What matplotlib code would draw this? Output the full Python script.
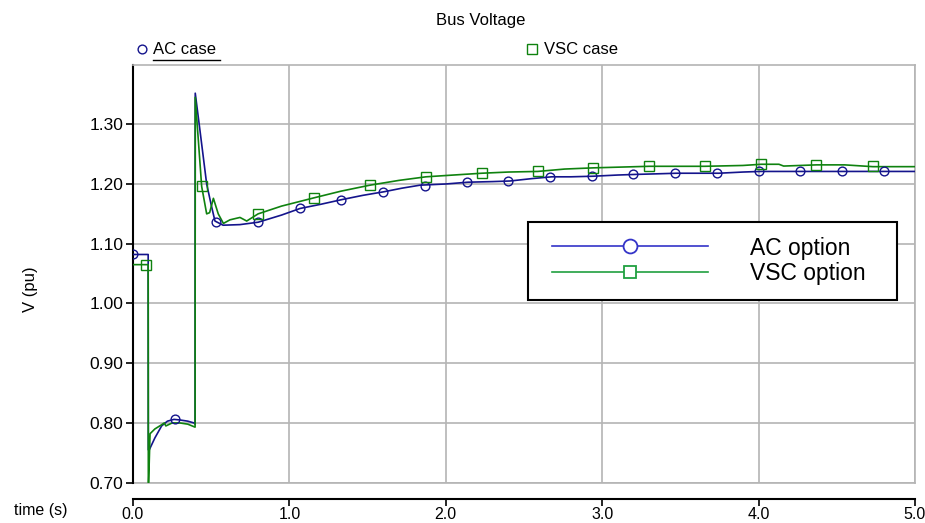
import matplotlib
matplotlib.use("Agg")
import matplotlib.pyplot as plt
from matplotlib.lines import Line2D
from matplotlib.patches import Rectangle

plt.rcParams['font.family'] = ['Liberation Sans', 'DejaVu Sans']

# ---------------- data ----------------
ac_t = [0.0, 0.097, 0.098, 0.104, 0.14, 0.183, 0.22, 0.262, 0.30, 0.35, 0.39, 0.397,
        0.398, 0.428, 0.471, 0.50, 0.524, 0.576, 0.684, 0.80, 0.95, 1.068, 1.20, 1.338,
        1.47, 1.605, 1.72, 1.835, 2.0, 2.142, 2.30, 2.41, 2.55, 2.677, 2.80, 2.943,
        3.10, 3.21, 3.35, 3.478, 3.60, 3.745, 3.90, 4.01, 4.30, 4.60, 5.0]
ac_v = [1.082, 1.082, 0.755, 0.755, 0.775, 0.795, 0.803, 0.806, 0.805, 0.803, 0.800, 0.798,
        1.352, 1.290, 1.200, 1.165, 1.138, 1.131, 1.132, 1.136, 1.148, 1.159, 1.166, 1.174,
        1.181, 1.187, 1.193, 1.198, 1.200, 1.203, 1.204, 1.205, 1.209, 1.212, 1.212, 1.213,
        1.215, 1.216, 1.217, 1.218, 1.218, 1.218, 1.220, 1.221, 1.221, 1.221, 1.221]

vsc_t = [0.0, 0.097, 0.098, 0.100, 0.109, 0.14, 0.183, 0.20, 0.21, 0.25, 0.30, 0.35, 0.397,
         0.398, 0.439, 0.471, 0.49, 0.514, 0.545, 0.578, 0.62, 0.684, 0.727, 0.80, 0.95,
         1.16, 1.33, 1.515, 1.70, 1.873, 2.05, 2.23, 2.40, 2.588, 2.76, 2.943, 3.30, 3.655,
         3.90, 4.017, 4.13, 4.16, 4.37, 4.55, 4.73, 5.0]
vsc_v = [1.065, 1.065, 0.700, 0.700, 0.782, 0.790, 0.797, 0.800, 0.795, 0.800, 0.800, 0.798, 0.793,
         1.345, 1.196, 1.150, 1.152, 1.176, 1.150, 1.134, 1.140, 1.144, 1.138, 1.150, 1.163,
         1.177, 1.188, 1.198, 1.206, 1.212, 1.215, 1.218, 1.220, 1.221, 1.225, 1.227, 1.2296, 1.2296,
         1.231, 1.233, 1.233, 1.230, 1.232, 1.232, 1.229, 1.229]

ac_mark_t = [0.0, 0.267, 0.533, 0.80, 1.067, 1.333, 1.60, 1.867, 2.133, 2.40, 2.667, 2.933,
             3.20, 3.467, 3.733, 4.0, 4.267, 4.533, 4.80]
ac_mark_v = [1.082, 0.806, 1.137, 1.136, 1.159, 1.174, 1.187, 1.196, 1.203, 1.205, 1.212, 1.213,
             1.216, 1.218, 1.218, 1.221, 1.221, 1.221, 1.221]

vsc_mark_t = [0.082, 0.44, 0.80, 1.157, 1.514, 1.873, 2.23, 2.588, 2.943, 3.30, 3.655, 4.017, 4.37, 4.73]
vsc_mark_v = [1.065, 1.196, 1.150, 1.177, 1.198, 1.212, 1.218, 1.221, 1.227, 1.2296, 1.2296, 1.233, 1.232, 1.2296]

x_ticks = [0.0, 1.0, 2.0, 3.0, 4.0, 5.0]
y_ticks = [0.70, 0.80, 0.90, 1.00, 1.10, 1.20, 1.30]

title = "Bus Voltage"
series_names = ["AC case", "VSC case"]
legend_names = ["AC option", "VSC option"]

# ---------------- figure ----------------
W, H = 925, 523
fig = plt.figure(figsize=(W / 100, H / 100), dpi=100)

def fx(px):
    return px / W

def fy(py):
    return 1 - py / H

ax = fig.add_axes([fx(133), fy(482.7), fx(915) - fx(133), fy(64.5) - fy(482.7)])

AC_COL = "#14148c"
VSC_COL = "#0f820f"
GRID = "#b4b4b4"

ax.plot(ac_t, ac_v, color=AC_COL, lw=1.2, zorder=3)
ax.plot(vsc_t, vsc_v, color=VSC_COL, lw=1.2, zorder=4)
ax.plot(ac_mark_t, ac_mark_v, ls='none', marker='o', ms=6.3, mfc='none', mec=AC_COL, mew=1.0, zorder=5)
ax.plot(vsc_mark_t, vsc_mark_v, ls='none', marker='s', ms=6.5, mfc='none', mec=VSC_COL, mew=1.0, zorder=5)

ax.set_xlim(0, 5)
ax.set_ylim(0.70, 1.40)
ax.set_xticks(x_ticks)
ax.set_yticks(y_ticks)
ax.set_xticklabels([f"{v:.1f}" for v in x_ticks])
ax.set_yticklabels([f"{v:.2f}" for v in y_ticks])
ax.grid(True, color=GRID, lw=1.2)
ax.set_axisbelow(True)

for s in ['top', 'right']:
    ax.spines[s].set_color(GRID)
    ax.spines[s].set_linewidth(1.2)
ax.spines['left'].set_color('black')
ax.spines['left'].set_linewidth(1.5)
ax.spines['bottom'].set_color('black')
ax.spines['bottom'].set_linewidth(1.5)
ax.spines['bottom'].set_position(('outward', 11.7))
ax.axhline(0.70, color=GRID, lw=1.2, zorder=1, clip_on=False)

ax.tick_params(axis='both', direction='out', length=5, width=1.2, colors='black', labelsize=12.5)
ax.tick_params(axis='x', pad=1, labelsize=11.5)
ax.tick_params(axis='y', pad=2)

# axis labels
fig.text(fx(41), fy(510), "time (s)", ha='center', va='center', fontsize=11.5)
fig.text(fx(30), fy(289), "V (pu)", ha='center', va='center', rotation=90, fontsize=12)
fig.text(fx(481), fy(20), title, ha='center', va='center', fontsize=12)

# top legend entries
fig.add_artist(Line2D([fx(141.7)], [fy(49)], transform=fig.transFigure, marker='o', ms=6.3,
                      mfc='none', mec=AC_COL, mew=1.0, ls='none'))
fig.text(fx(153), fy(49), series_names[0], ha='left', va='center', fontsize=12)
fig.add_artist(Line2D([fx(153), fx(220)], [fy(60), fy(60)], transform=fig.transFigure,
                      color='black', lw=1.0))
fig.add_artist(Line2D([fx(532.3)], [fy(48.5)], transform=fig.transFigure, marker='s', ms=6.5,
                      mfc='none', mec=VSC_COL, mew=1.0, ls='none'))
fig.text(fx(544), fy(49), series_names[1], ha='left', va='center', fontsize=12)

# inner legend: frame drawn separately, entries placed by legend
frame = Rectangle((fx(528), fy(300)), fx(897) - fx(528), fy(221.7) - fy(300),
                  transform=fig.transFigure, facecolor='white', edgecolor='black', lw=1.5, zorder=6)
fig.add_artist(frame)
handles = [Line2D([], [], color="#3434c8", lw=1.2, marker='o', ms=10, mfc='white', mec="#3434c8", mew=1.3),
           Line2D([], [], color="#20a040", lw=1.2, marker='s', ms=8, mfc='white', mec="#20a040", mew=1.3)]
leg = fig.legend(handles, legend_names, loc='upper left',
                 bbox_to_anchor=(fx(552), fy(236.5)), bbox_transform=fig.transFigure,
                 fontsize=16.5, frameon=False, handlelength=6.8,
                 handletextpad=1.85, borderpad=0, labelspacing=0.12, borderaxespad=0)
leg.set_zorder(7)

fig.savefig("out.png", dpi=100)
